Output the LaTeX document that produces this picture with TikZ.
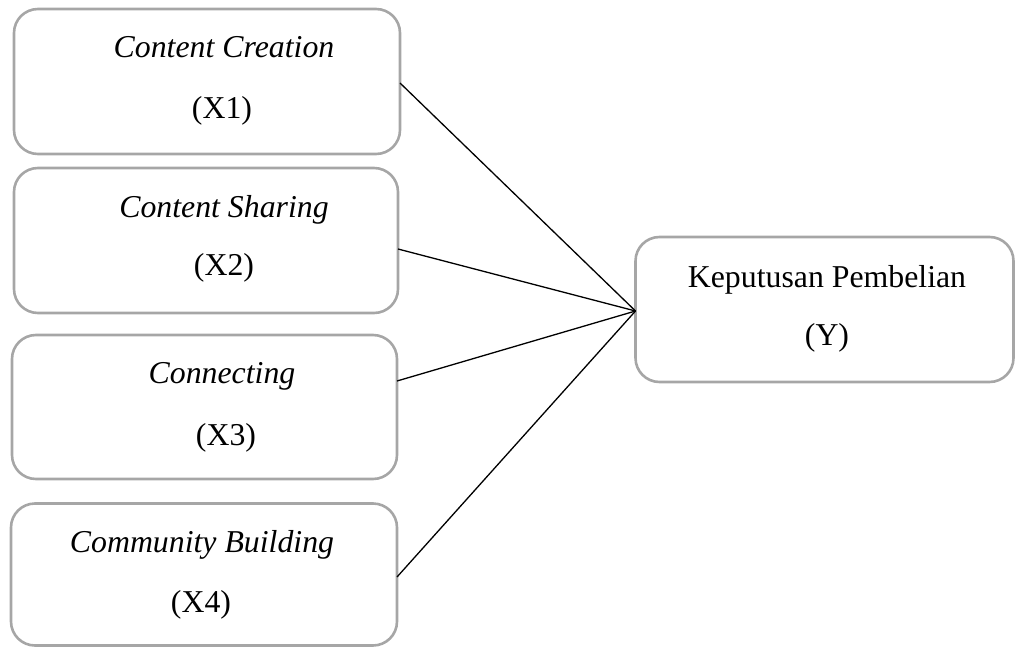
\documentclass[tikz,border=0pt]{standalone}
\usepackage{fontspec}
\setmainfont{Liberation Serif}
\definecolor{boxgray}{RGB}{166,166,166}
\begin{document}
\begin{tikzpicture}[x=1pt,y=-1pt,
  box/.style={draw=boxgray,line width=2.6pt,rounded corners=24pt,inner sep=0pt,outer sep=0pt},
  lbl/.style={anchor=base,inner sep=0pt,font=\fontsize{31.8}{38}\selectfont},
  conn/.style={draw=black,line width=1.3pt}]
\useasboundingbox (0,0) rectangle (1016,647);
% boxes
\node[box,minimum width=386pt,minimum height=145pt] (b1) at (207,81.5) {};
\node[box,minimum width=384pt,minimum height=145pt] (b2) at (206,240.5) {};
\node[box,minimum width=385pt,minimum height=144pt] (b3) at (204.5,407) {};
\node[box,minimum width=386pt,minimum height=142pt] (b4) at (204,574.5) {};
\node[box,minimum width=378pt,minimum height=145pt] (by) at (824.5,309.5) {};
% texts
\node[lbl] (t1a) at (224,58) {\itshape Content Creation};
\node[lbl] (t1b) at (222,119) {(X1)};
\node[lbl] (t2a) at (224,217) {\itshape Content Sharing};
\node[lbl] (t2b) at (224,275) {(X2)};
\node[lbl] (t3a) at (222,383) {\itshape Connecting};
\node[lbl] (t3b) at (226,445) {(X3)};
\node[lbl] (t4a) at (202,552) {\itshape Community Building};
\node[lbl] (t4b) at (201,612) {(X4)};
\node[lbl] (tya) at (827,287) {Keputusan Pembelian};
\node[lbl] (tyb) at (827,345) {(Y)};
% connector ends
\coordinate (s1) at (b1.east |- 0,83);
\coordinate (s2) at (b2.east |- 0,249);
\coordinate (s3) at (b3.east |- 0,381);
\coordinate (s4) at (b4.east |- 0,577);
\coordinate (m) at (by.west |- 0,311);
\draw[conn] (s1) -- (m);
\draw[conn] (s2) -- (m);
\draw[conn] (s3) -- (m);
\draw[conn] (s4) -- (m);
\end{tikzpicture}
\end{document}
